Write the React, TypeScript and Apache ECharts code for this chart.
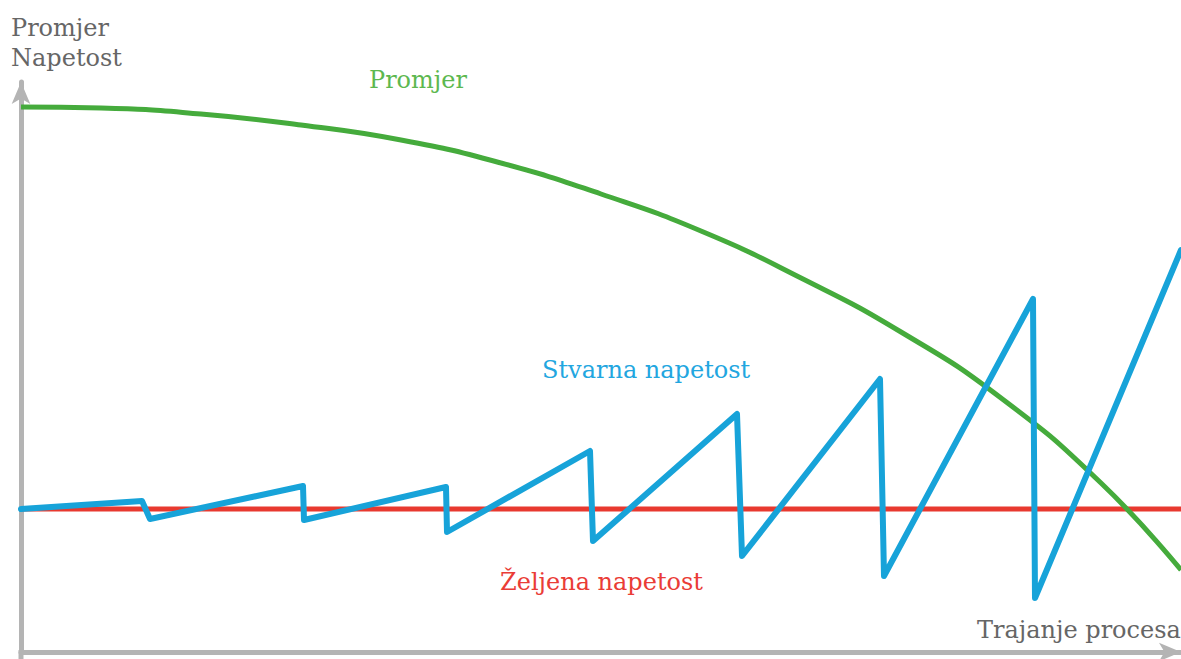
import React, { useEffect, useRef } from "react";
import * as echarts from "echarts";

// x: process duration units, y: diameter / tension units
const promjerX = [0, 8, 18, 28, 38, 48, 58, 68, 78, 88, 98, 108, 116];
const promjerY = [54.5, 54.4, 53.8, 52.7, 51.2, 48.9, 45.8, 42.1, 37.4, 32.0, 25.4, 16.9, 8.2];

const stvarnaX = [0, 12.1, 12.9, 28.2, 28.3, 42.5, 42.6, 56.9, 57.2, 71.6, 72.1, 85.9, 86.3, 101.2, 101.4, 116];
const stvarnaY = [14.3, 15.1, 13.3, 16.6, 13.2, 16.5, 12.0, 20.1, 11.1, 23.8, 9.6, 27.3, 7.6, 35.3, 5.4, 40.2];

const zeljenaX = [0, 116];
const zeljenaY = [14.3, 14.3];

const labels = {
  yAxis1: "Promjer",
  yAxis2: "Napetost",
  xAxis: "Trajanje procesa",
  promjer: "Promjer",
  stvarna: "Stvarna napetost",
  zeljena: "Željena napetost",
};

const zip = (xs: number[], ys: number[]) => xs.map((x, i) => [x, ys[i]]);

export default function App() {
  const ref = useRef<HTMLDivElement>(null);
  useEffect(() => {
    if (!ref.current) return;
    const chart = echarts.init(ref.current, undefined, { renderer: "svg" });
    const axisLine = {
      show: true,
      symbol: ["none", "arrow"],
      symbolSize: [14, 22],
      lineStyle: { color: "#b4b4b4", width: 5 },
    };
    const txt = (text: string, x: number, y: number, fill: string) => ({
      type: "text",
      x,
      y,
      z: 100,
      style: {
        text,
        fill,
        fontFamily: "DejaVu Serif",
        fontSize: 24,
        verticalAlign: "middle",
        align: "left",
      },
    });
    chart.setOption({
      animation: false,
      backgroundColor: "#ffffff",
      grid: { left: 21, right: 0, top: 82, bottom: 7 },
      xAxis: {
        type: "value",
        min: 0,
        max: 116,
        axisLine,
        axisTick: { show: false },
        axisLabel: { show: false },
        splitLine: { show: false },
      },
      yAxis: {
        type: "value",
        min: 0,
        max: 57,
        axisLine,
        axisTick: { show: false },
        axisLabel: { show: false },
        splitLine: { show: false },
      },
      series: [
        {
          name: labels.zeljena,
          type: "line",
          data: zip(zeljenaX, zeljenaY),
          symbol: "none",
          lineStyle: { color: "#e8392f", width: 5 },
          z: 2,
        },
        {
          name: labels.promjer,
          type: "line",
          data: zip(promjerX, promjerY),
          symbol: "none",
          smooth: true,
          lineStyle: { color: "#45ab3c", width: 5 },
          z: 3,
        },
        {
          name: labels.stvarna,
          type: "line",
          data: zip(stvarnaX, stvarnaY),
          symbol: "none",
          lineStyle: { color: "#17a3d9", width: 6, join: "round", cap: "round" },
          z: 4,
        },
      ],
      graphic: [
        {
          type: "line",
          z: 1,
          shape: { x1: 21, y1: 650, x2: 21, y2: 659 },
          style: { stroke: "#b4b4b4", lineWidth: 5 },
        },
        txt(labels.yAxis1, 11, 28, "#666666"),
        txt(labels.yAxis2, 11, 58, "#666666"),
        txt(labels.promjer, 369, 80, "#5db84f"),
        txt(labels.stvarna, 542, 370, "#22a6e0"),
        txt(labels.zeljena, 500, 582, "#ea3c36"),
        txt(labels.xAxis, 977, 630, "#666666"),
      ],
    });
    return () => chart.dispose();
  }, []);
  return (
    <div
      ref={ref}
      style={{ position: "fixed", left: 0, top: 0, width: 1181, height: 659, background: "#fff" }}
    />
  );
}
